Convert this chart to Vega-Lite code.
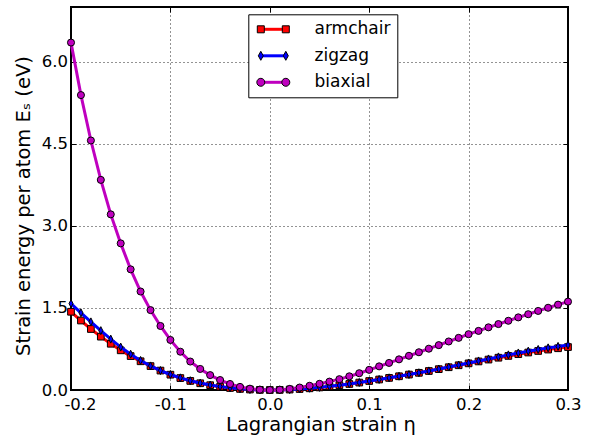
{
  "$schema": "https://vega.github.io/schema/vega-lite/v6.json",
  "width": 497,
  "height": 383,
  "autosize": {"type": "none"},
  "padding": {"left": 71, "top": 7, "right": 26, "bottom": 48},
  "background": "white",
  "data": {"values": [
    {"series":"armchair","eta":-0.2,"E":1.43},{"series":"armchair","eta":-0.19,"E":1.27},{"series":"armchair","eta":-0.18,"E":1.115},{"series":"armchair","eta":-0.17,"E":0.975},{"series":"armchair","eta":-0.16,"E":0.845},{"series":"armchair","eta":-0.15,"E":0.725},{"series":"armchair","eta":-0.14,"E":0.62},{"series":"armchair","eta":-0.13,"E":0.525},{"series":"armchair","eta":-0.12,"E":0.437},{"series":"armchair","eta":-0.11,"E":0.355},{"series":"armchair","eta":-0.1,"E":0.28},{"series":"armchair","eta":-0.09,"E":0.218},{"series":"armchair","eta":-0.08,"E":0.166},{"series":"armchair","eta":-0.07,"E":0.123},{"series":"armchair","eta":-0.06,"E":0.088},{"series":"armchair","eta":-0.05,"E":0.06},{"series":"armchair","eta":-0.04,"E":0.037},{"series":"armchair","eta":-0.03,"E":0.02},{"series":"armchair","eta":-0.02,"E":0.009},{"series":"armchair","eta":-0.01,"E":0.002},{"series":"armchair","eta":0,"E":0},{"series":"armchair","eta":0.01,"E":0.002},{"series":"armchair","eta":0.02,"E":0.008},{"series":"armchair","eta":0.03,"E":0.018},{"series":"armchair","eta":0.04,"E":0.031},{"series":"armchair","eta":0.05,"E":0.047},{"series":"armchair","eta":0.06,"E":0.066},{"series":"armchair","eta":0.07,"E":0.087},{"series":"armchair","eta":0.08,"E":0.11},{"series":"armchair","eta":0.09,"E":0.136},{"series":"armchair","eta":0.1,"E":0.164},{"series":"armchair","eta":0.11,"E":0.192},{"series":"armchair","eta":0.12,"E":0.221},{"series":"armchair","eta":0.13,"E":0.251},{"series":"armchair","eta":0.14,"E":0.282},{"series":"armchair","eta":0.15,"E":0.314},{"series":"armchair","eta":0.16,"E":0.347},{"series":"armchair","eta":0.17,"E":0.381},{"series":"armchair","eta":0.18,"E":0.416},{"series":"armchair","eta":0.19,"E":0.452},{"series":"armchair","eta":0.2,"E":0.487},{"series":"armchair","eta":0.21,"E":0.522},{"series":"armchair","eta":0.22,"E":0.556},{"series":"armchair","eta":0.23,"E":0.59},{"series":"armchair","eta":0.24,"E":0.623},{"series":"armchair","eta":0.25,"E":0.655},{"series":"armchair","eta":0.26,"E":0.685},{"series":"armchair","eta":0.27,"E":0.713},{"series":"armchair","eta":0.28,"E":0.739},{"series":"armchair","eta":0.29,"E":0.763},{"series":"armchair","eta":0.3,"E":0.785},
    {"series":"zigzag","eta":-0.2,"E":1.58},{"series":"zigzag","eta":-0.19,"E":1.41},{"series":"zigzag","eta":-0.18,"E":1.245},{"series":"zigzag","eta":-0.17,"E":1.085},{"series":"zigzag","eta":-0.16,"E":0.93},{"series":"zigzag","eta":-0.15,"E":0.785},{"series":"zigzag","eta":-0.14,"E":0.655},{"series":"zigzag","eta":-0.13,"E":0.54},{"series":"zigzag","eta":-0.12,"E":0.44},{"series":"zigzag","eta":-0.11,"E":0.355},{"series":"zigzag","eta":-0.1,"E":0.283},{"series":"zigzag","eta":-0.09,"E":0.222},{"series":"zigzag","eta":-0.08,"E":0.17},{"series":"zigzag","eta":-0.07,"E":0.127},{"series":"zigzag","eta":-0.06,"E":0.091},{"series":"zigzag","eta":-0.05,"E":0.062},{"series":"zigzag","eta":-0.04,"E":0.039},{"series":"zigzag","eta":-0.03,"E":0.021},{"series":"zigzag","eta":-0.02,"E":0.009},{"series":"zigzag","eta":-0.01,"E":0.002},{"series":"zigzag","eta":0,"E":0},{"series":"zigzag","eta":0.01,"E":0.002},{"series":"zigzag","eta":0.02,"E":0.008},{"series":"zigzag","eta":0.03,"E":0.018},{"series":"zigzag","eta":0.04,"E":0.032},{"series":"zigzag","eta":0.05,"E":0.048},{"series":"zigzag","eta":0.06,"E":0.067},{"series":"zigzag","eta":0.07,"E":0.088},{"series":"zigzag","eta":0.08,"E":0.111},{"series":"zigzag","eta":0.09,"E":0.137},{"series":"zigzag","eta":0.1,"E":0.165},{"series":"zigzag","eta":0.11,"E":0.193},{"series":"zigzag","eta":0.12,"E":0.222},{"series":"zigzag","eta":0.13,"E":0.252},{"series":"zigzag","eta":0.14,"E":0.283},{"series":"zigzag","eta":0.15,"E":0.315},{"series":"zigzag","eta":0.16,"E":0.349},{"series":"zigzag","eta":0.17,"E":0.384},{"series":"zigzag","eta":0.18,"E":0.42},{"series":"zigzag","eta":0.19,"E":0.457},{"series":"zigzag","eta":0.2,"E":0.494},{"series":"zigzag","eta":0.21,"E":0.531},{"series":"zigzag","eta":0.22,"E":0.568},{"series":"zigzag","eta":0.23,"E":0.605},{"series":"zigzag","eta":0.24,"E":0.642},{"series":"zigzag","eta":0.25,"E":0.677},{"series":"zigzag","eta":0.26,"E":0.71},{"series":"zigzag","eta":0.27,"E":0.741},{"series":"zigzag","eta":0.28,"E":0.77},{"series":"zigzag","eta":0.29,"E":0.797},{"series":"zigzag","eta":0.3,"E":0.822},
    {"series":"biaxial","eta":-0.2,"E":6.35},{"series":"biaxial","eta":-0.19,"E":5.39},{"series":"biaxial","eta":-0.18,"E":4.56},{"series":"biaxial","eta":-0.17,"E":3.84},{"series":"biaxial","eta":-0.16,"E":3.21},{"series":"biaxial","eta":-0.15,"E":2.68},{"series":"biaxial","eta":-0.14,"E":2.205},{"series":"biaxial","eta":-0.13,"E":1.8},{"series":"biaxial","eta":-0.12,"E":1.46},{"series":"biaxial","eta":-0.11,"E":1.17},{"series":"biaxial","eta":-0.1,"E":0.915},{"series":"biaxial","eta":-0.09,"E":0.7},{"series":"biaxial","eta":-0.08,"E":0.52},{"series":"biaxial","eta":-0.07,"E":0.385},{"series":"biaxial","eta":-0.06,"E":0.272},{"series":"biaxial","eta":-0.05,"E":0.182},{"series":"biaxial","eta":-0.04,"E":0.11},{"series":"biaxial","eta":-0.03,"E":0.057},{"series":"biaxial","eta":-0.02,"E":0.024},{"series":"biaxial","eta":-0.01,"E":0.006},{"series":"biaxial","eta":0,"E":0},{"series":"biaxial","eta":0.01,"E":0.005},{"series":"biaxial","eta":0.02,"E":0.02},{"series":"biaxial","eta":0.03,"E":0.045},{"series":"biaxial","eta":0.04,"E":0.077},{"series":"biaxial","eta":0.05,"E":0.113},{"series":"biaxial","eta":0.06,"E":0.153},{"series":"biaxial","eta":0.07,"E":0.198},{"series":"biaxial","eta":0.08,"E":0.25},{"series":"biaxial","eta":0.09,"E":0.307},{"series":"biaxial","eta":0.1,"E":0.368},{"series":"biaxial","eta":0.11,"E":0.432},{"series":"biaxial","eta":0.12,"E":0.495},{"series":"biaxial","eta":0.13,"E":0.56},{"series":"biaxial","eta":0.14,"E":0.625},{"series":"biaxial","eta":0.15,"E":0.69},{"series":"biaxial","eta":0.16,"E":0.755},{"series":"biaxial","eta":0.17,"E":0.82},{"series":"biaxial","eta":0.18,"E":0.887},{"series":"biaxial","eta":0.19,"E":0.953},{"series":"biaxial","eta":0.2,"E":1.02},{"series":"biaxial","eta":0.21,"E":1.08},{"series":"biaxial","eta":0.22,"E":1.145},{"series":"biaxial","eta":0.23,"E":1.205},{"series":"biaxial","eta":0.24,"E":1.265},{"series":"biaxial","eta":0.25,"E":1.327},{"series":"biaxial","eta":0.26,"E":1.385},{"series":"biaxial","eta":0.27,"E":1.445},{"series":"biaxial","eta":0.28,"E":1.503},{"series":"biaxial","eta":0.29,"E":1.56},{"series":"biaxial","eta":0.3,"E":1.615}
  ]},
  "layer": [
    {
      "encoding": {
        "x": {"field": "eta", "type": "quantitative",
              "scale": {"domain": [-0.2, 0.3], "nice": false, "zero": false},
              "axis": {"orient": "bottom", "values": [-0.2, -0.1, 0, 0.1, 0.2, 0.3],
                       "labelExpr": "datum.value < 0 ? '-' + format(-datum.value, '.1f') : format(datum.value, '.1f')",
                       "labelFlush": false, "labelPadding": 11.5,
                       "labelOffset": {"condition": {"test": "datum.value < -0.15", "value": 9}, "value": 0},
                       "title": "Lagrangian strain η", "titleX": 249.5, "titleY": 40.5, "titleAlign": "center", "titleBaseline": "alphabetic"}},
        "y": {"field": "E", "type": "quantitative",
              "scale": {"domain": [0, 7], "nice": false},
              "axis": {"orient": "left", "values": [0, 1.5, 3, 4.5, 6], "format": ".1f", "labelPadding": 8.5,
                       "title": "Strain energy per atom Eₛ  (eV)", "titleX": -47.5, "titleY": 198.5, "titleAngle": 270,
                       "titleAlign": "center", "titleBaseline": "middle"}}
      },
      "layer": [
        {"transform": [{"filter": "datum.series === 'armchair'"}],
         "mark": {"type": "line", "strokeWidth": 3, "interpolate": "linear"},
         "encoding": {"stroke": {"field": "series", "type": "nominal",
            "scale": {"domain": ["armchair", "zigzag", "biaxial"], "range": ["#ff0000", "#0000ff", "#bf00bf"]},
            "legend": {"orient": "none", "legendX": 177.3, "legendY": 7.3, "title": null, "padding": 6.5, "rowPadding": 8.5,
                       "symbolSize": 196, "symbolType": "M-1.786,0H1.786", "symbolStrokeWidth": 3, "symbolOffset": 10,
                       "labelOffset": 32.7, "labelFont": "DejaVu Sans", "labelFontSize": 17, "labelColor": "black",
                       "strokeColor": "black", "fillColor": "white", "zindex": 1}}}},
        {"transform": [{"filter": "datum.series === 'armchair'"}],
         "mark": {"type": "point", "shape": "square", "filled": true, "opacity": 1, "stroke": "black", "strokeWidth": 1, "size": 45},
         "encoding": {
           "fill": {"field": "series", "type": "nominal",
             "scale": {"domain": ["armchair", "zigzag", "biaxial", "other"], "range": ["#ff0000", "#0000ff", "#bf00bf", "#000000"]},
             "legend": {"orient": "none", "legendX": 177.3, "legendY": 7.3, "title": null, "padding": 6.5, "rowPadding": 8.5,
                        "values": ["armchair", "zigzag", "biaxial"],
                        "symbolSize": 196, "symbolStrokeWidth": 1, "symbolStrokeColor": "black", "symbolOpacity": 1, "symbolOffset": 10,
                        "labelOffset": 32.7, "labelFont": "DejaVu Sans", "labelFontSize": 17, "labelExpr": "''", "zindex": 2}}
         }},
        {"transform": [{"filter": "datum.series === 'zigzag'"}],
         "mark": {"type": "line", "strokeWidth": 3, "interpolate": "linear"},
         "encoding": {"stroke": {"field": "series", "type": "nominal", "legend": null}}},
        {"transform": [{"filter": "datum.series === 'zigzag'"}],
         "mark": {"type": "point", "shape": "M0,-1L0.5,0L0,1L-0.5,0Z", "filled": true, "opacity": 1, "stroke": "black", "strokeWidth": 1, "size": 64},
         "encoding": {"fill": {"field": "series", "type": "nominal", "legend": null}}},
        {"transform": [{"filter": "datum.series === 'biaxial'"}],
         "mark": {"type": "line", "strokeWidth": 3, "interpolate": "linear"},
         "encoding": {"stroke": {"field": "series", "type": "nominal", "legend": null}}},
        {"transform": [{"filter": "datum.series === 'biaxial'"}],
         "mark": {"type": "point", "shape": "circle", "filled": true, "opacity": 1, "stroke": "black", "strokeWidth": 1, "size": 50},
         "encoding": {"fill": {"field": "series", "type": "nominal", "legend": null}}}
      ]
    },
    {
      "data": {"values": []},
      "mark": {"type": "point", "opacity": 0},
      "encoding": {
        "x": {"field": "eta", "type": "quantitative", "scale": {"domain": [-0.2, 0.3], "nice": false, "zero": false},
              "axis": {"orient": "top", "values": [-0.2, -0.1, 0, 0.1, 0.2, 0.3], "labels": false, "grid": false, "title": null}},
        "y": {"field": "E", "type": "quantitative", "scale": {"domain": [0, 7], "nice": false},
              "axis": {"orient": "right", "values": [0, 1.5, 3, 4.5, 6], "labels": false, "grid": false, "title": null}},
        "shape": {"field": "series", "type": "nominal",
          "scale": {"domain": ["armchair", "zigzag", "biaxial", "other"],
                    "range": ["M-2.286,-0.5H-1.286V0.5H-2.286Z M1.286,-0.5H2.286V0.5H1.286Z",
                              "M-1.786,-0.643L-1.429,0L-1.786,0.643L-2.143,0Z M1.786,-0.643L2.143,0L1.786,0.643L1.429,0Z",
                              "M-1.215,0A0.571,0.571,0,1,1,-2.357,0A0.571,0.571,0,1,1,-1.215,0Z M2.357,0A0.571,0.571,0,1,1,1.215,0A0.571,0.571,0,1,1,2.357,0Z",
                              "circle"]},
          "legend": {"orient": "none", "legendX": 177.3, "legendY": 7.3, "title": null, "padding": 6.5, "rowPadding": 8.5,
                     "values": ["armchair", "zigzag", "biaxial"],
                     "symbolSize": 196, "symbolStrokeWidth": 1, "symbolStrokeColor": "black", "symbolOpacity": 1, "symbolOffset": 10,
                     "labelOffset": 32.7, "labelFont": "DejaVu Sans", "labelFontSize": 17, "labelExpr": "''", "zindex": 2}}
      }
    }
  ],
  "resolve": {"axis": {"x": "independent", "y": "independent"}},
  "config": {
    "view": {"stroke": "black", "strokeWidth": 2},
    "axis": {"domain": false, "grid": true, "gridColor": "black", "gridDash": [1, 3], "gridWidth": 1, "gridOpacity": 0.85,
             "ticks": true, "tickColor": "black", "tickSize": -5, "tickWidth": 1,
             "labelFont": "DejaVu Sans", "labelFontSize": 16.5, "labelColor": "black",
             "titleFont": "DejaVu Sans", "titleFontSize": 19.5, "titleFontWeight": "normal", "titleColor": "black"}
  }
}
